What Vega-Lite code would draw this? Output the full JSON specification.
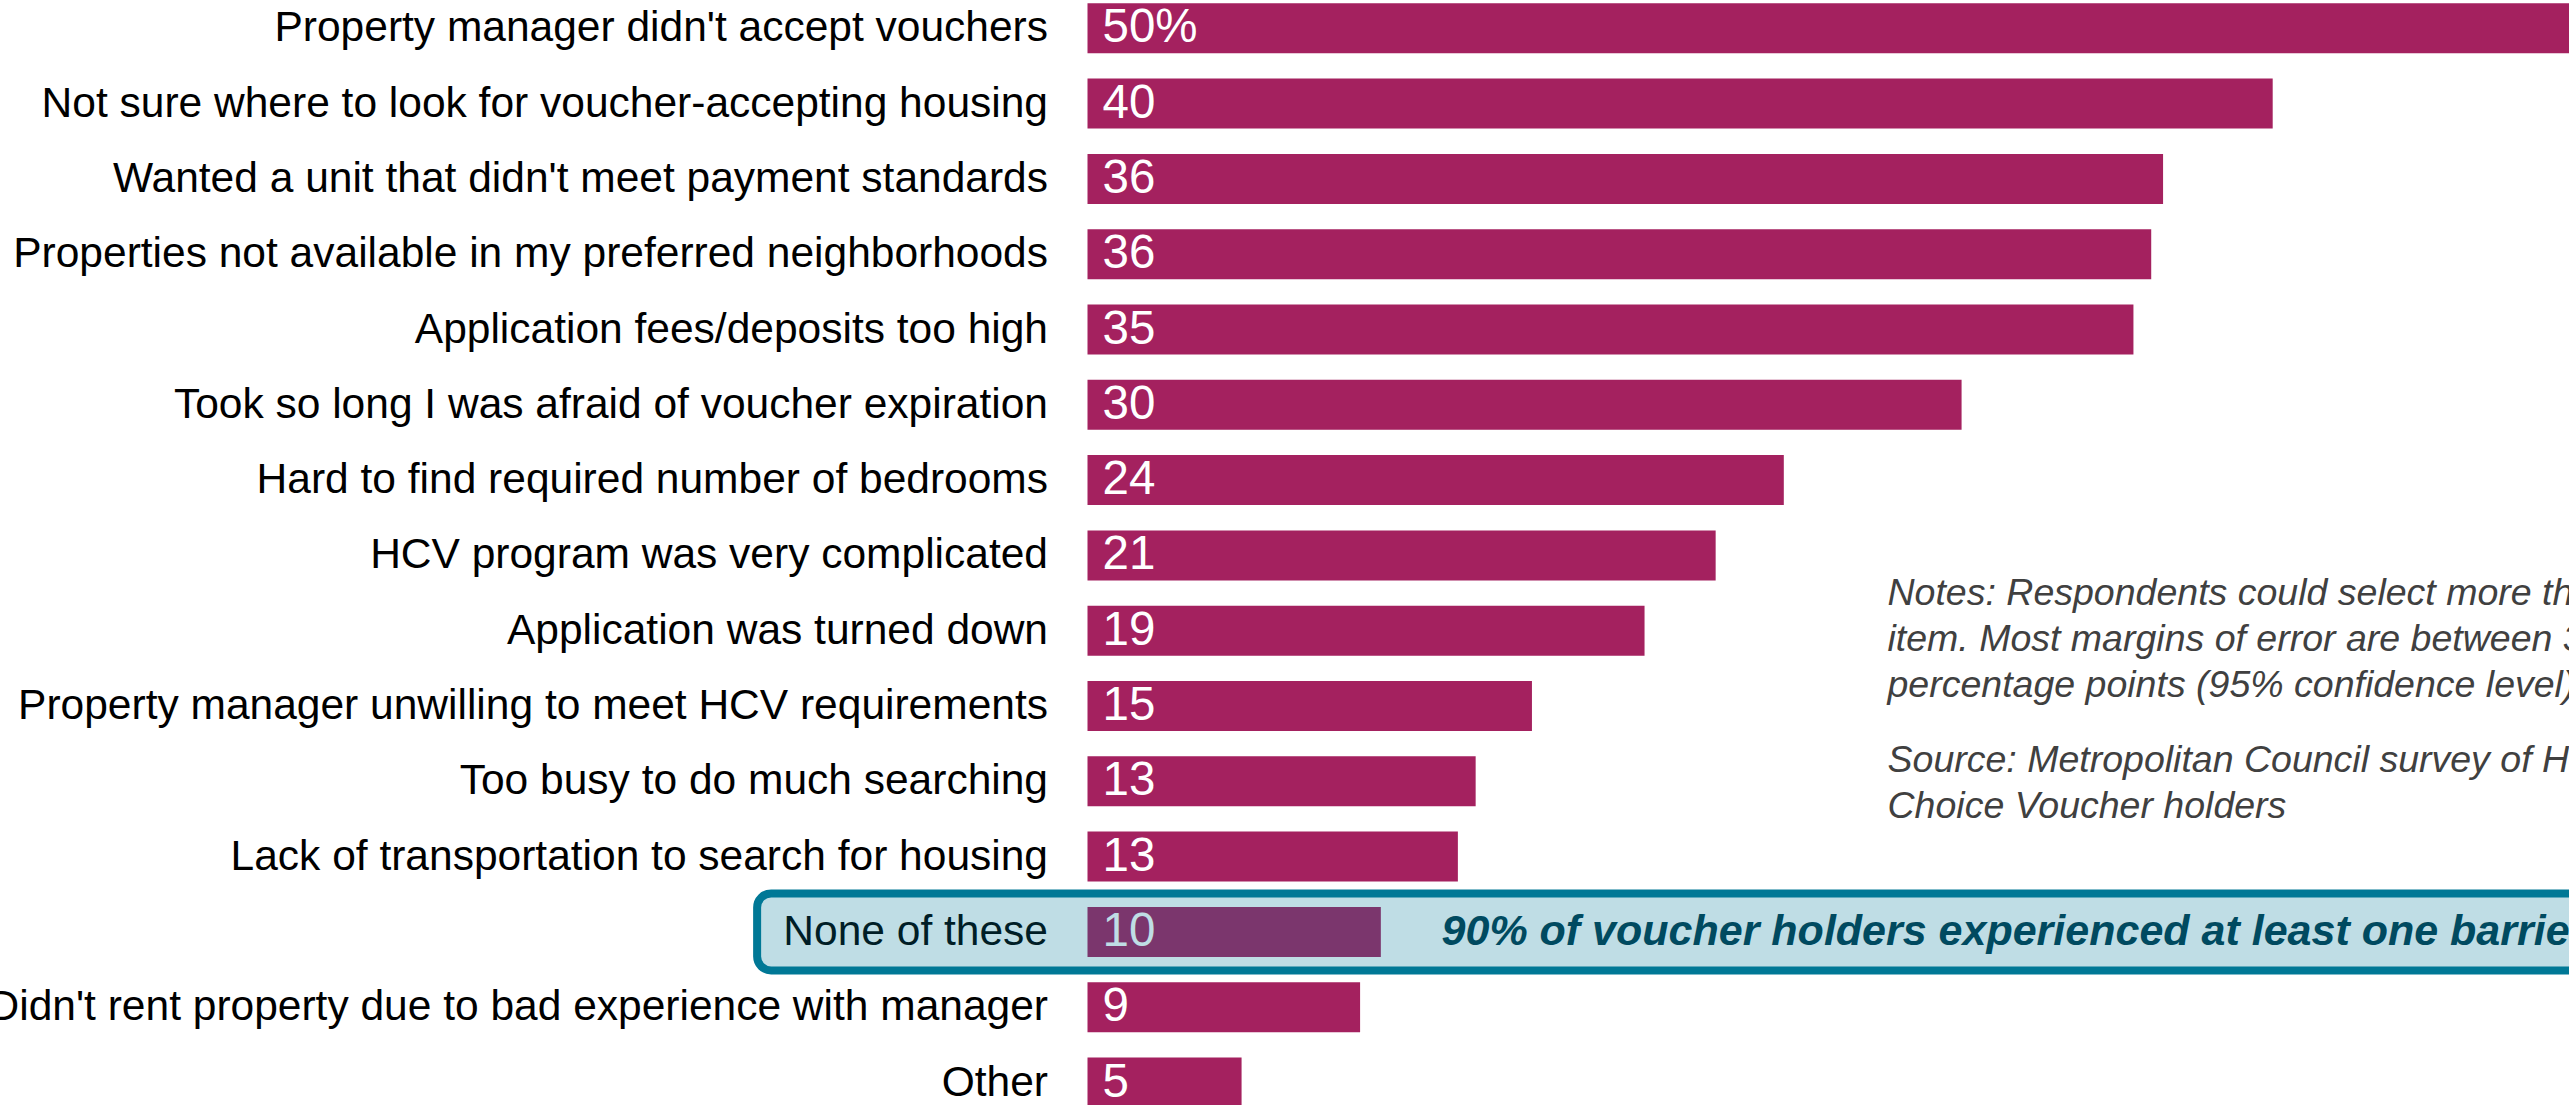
{
  "$schema": "https://vega.github.io/schema/vega-lite/v6.json",
  "autosize": {"type": "none"},
  "padding": {"left": 1087.5, "top": 0, "right": 0, "bottom": 0},
  "width": 1481.5,
  "height": 1105,
  "background": "white",
  "config": {"view": {"stroke": null}, "font": "Liberation Sans"},
  "datasets": {
    "bars": [
      {"reason": "Property manager didn't accept vouchers", "value": 50, "label": "50%"},
      {"reason": "Not sure where to look for voucher-accepting housing", "value": 40, "label": "40"},
      {"reason": "Wanted a unit that didn't meet payment standards", "value": 36.3, "label": "36"},
      {"reason": "Properties not available in my preferred neighborhoods", "value": 35.9, "label": "36"},
      {"reason": "Application fees/deposits too high", "value": 35.3, "label": "35"},
      {"reason": "Took so long I was afraid of voucher expiration", "value": 29.5, "label": "30"},
      {"reason": "Hard to find required number of bedrooms", "value": 23.5, "label": "24"},
      {"reason": "HCV program was very complicated", "value": 21.2, "label": "21"},
      {"reason": "Application was turned down", "value": 18.8, "label": "19"},
      {"reason": "Property manager unwilling to meet HCV requirements", "value": 15.0, "label": "15"},
      {"reason": "Too busy to do much searching", "value": 13.1, "label": "13"},
      {"reason": "Lack of transportation to search for housing", "value": 12.5, "label": "13"},
      {"reason": "None of these", "value": 9.9, "label": "10"},
      {"reason": "Didn't rent property due to bad experience with manager", "value": 9.2, "label": "9"},
      {"reason": "Other", "value": 5.2, "label": "5"}
    ],
    "box": [
      {"reason": "None of these", "start": -11.15, "end": 53, "text": "90% of voucher holders experienced at least one barrier", "textX": 11.95}
    ],
    "notes": [
      {"reason": "HCV program was very complicated", "x": 27.0, "lines": ["Notes: Respondents could select more than one", "item. Most margins of error are between 3 and 6", "percentage points (95% confidence level)."]}
    ],
    "source": [
      {"reason": "Too busy to do much searching", "x": 27.0, "lines": ["Source: Metropolitan Council survey of Housing", "Choice Voucher holders"]}
    ]
  },
  "encoding": {
    "y": {
      "field": "reason",
      "type": "nominal",
      "sort": null,
      "scale": {"range": [-9.35, 1120.15], "paddingInner": 0.336, "paddingOuter": 0.168},
      "axis": {
        "title": null,
        "domain": false,
        "ticks": false,
        "labelPadding": 40,
        "labelFontSize": 42.5,
        "labelColor": "#000000",
        "labelFont": "Liberation Sans",
        "labelLimit": 2000,
        "zindex": 0
      }
    }
  },
  "layer": [
    {
      "data": {"name": "bars"},
      "mark": {"type": "bar", "color": "#A4215F"},
      "encoding": {
        "x": {"field": "value", "type": "quantitative", "scale": {"domain": [0, 50], "nice": false, "zero": true}, "axis": null}
      }
    },
    {
      "data": {"name": "bars"},
      "mark": {"type": "text", "align": "left", "baseline": "middle", "dx": 15, "fontSize": 47.5, "color": "#FFFFFF", "font": "Liberation Sans"},
      "encoding": {
        "x": {"datum": 0},
        "text": {"field": "label"}
      }
    },
    {
      "data": {"name": "box"},
      "mark": {"type": "rect", "height": {"band": 1.54}, "fill": "#007896", "fillOpacity": 0.25, "stroke": "#007896", "strokeWidth": 8, "cornerRadius": 14},
      "encoding": {
        "x": {"field": "start", "type": "quantitative"},
        "x2": {"field": "end"}
      }
    },
    {
      "data": {"name": "box"},
      "mark": {"type": "text", "align": "left", "baseline": "middle", "fontSize": 43, "fontWeight": "bold", "fontStyle": "italic", "color": "#004A60", "font": "Liberation Sans"},
      "encoding": {
        "x": {"field": "textX", "type": "quantitative"},
        "text": {"field": "text"}
      }
    },
    {
      "data": {"name": "notes"},
      "mark": {"type": "text", "align": "left", "baseline": "alphabetic", "dy": 49.6, "lineHeight": 46, "fontSize": 37.5, "fontStyle": "italic", "color": "#404040", "font": "Liberation Sans"},
      "encoding": {
        "x": {"field": "x", "type": "quantitative"},
        "text": {"field": "lines"}
      }
    },
    {
      "data": {"name": "source"},
      "mark": {"type": "text", "align": "left", "baseline": "alphabetic", "dy": -9.3, "lineHeight": 46, "fontSize": 37.5, "fontStyle": "italic", "color": "#404040", "font": "Liberation Sans"},
      "encoding": {
        "x": {"field": "x", "type": "quantitative"},
        "text": {"field": "lines"}
      }
    }
  ]
}
